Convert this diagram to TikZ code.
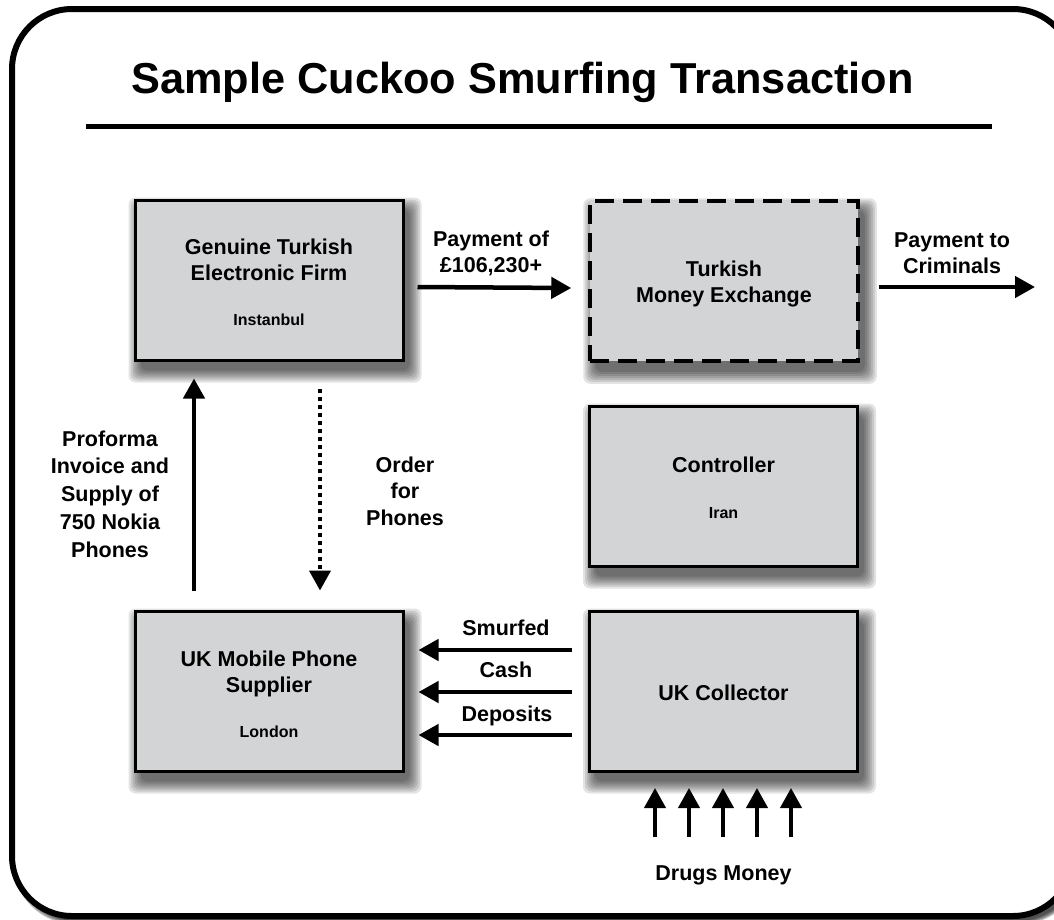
\documentclass[tikz,border=0pt]{standalone}
\usepackage{fontspec}
\setmainfont{Liberation Sans}
\usetikzlibrary{arrows.meta,calc}
\pgfdeclarelayer{back}
\pgfdeclarelayer{bg}
\pgfsetlayers{back,bg,main}
\definecolor{boxgray}{RGB}{211,212,214}
\tikzset{
  box/.style={draw=black, line width=3pt, fill=boxgray, minimum width=268pt, minimum height=160pt, inner sep=0pt},
  dashbox/.style={box, dash pattern=on 19pt off 9pt, line width=3.5pt},
  lbl/.style={font=\fontsize{21.5}{26}\selectfont\bfseries, align=center, anchor=base, inner sep=0pt},
  loc/.style={font=\fontsize{16}{19}\selectfont\bfseries, anchor=base, inner sep=0pt},
  tip/.tip={Triangle[length=20pt,width=21pt]},
  arr/.style={line width=4.5pt, -tip},
  dotarr/.style={line width=4pt, dash pattern=on 4pt off 4pt, -tip},
  shd/.style={fill=black, fill opacity=0.11, rounded corners=7pt},
}
\newcommand{\mkshadow}[1]{%
  \begin{pgfonlayer}{bg}
  \foreach \e in {11,9,...,-1}{
    \fill[shd] ($(#1.north west)+(6-\e,10-\e)$) rectangle ($(#1.south east)+(6+\e,10+\e)$);
  }
  \end{pgfonlayer}}
\begin{document}
\begin{tikzpicture}[x=1pt,y=-1pt]
\useasboundingbox (0,0) rectangle (1054,919);
\clip (0,0) rectangle (1054,919);
% frame
\begin{pgfonlayer}{back}
\foreach \e in {3,2,1,0}{
  \fill[black, fill opacity=0.25, rounded corners=60pt] (12+5-\e,9+5-\e) rectangle (1073+5+\e,916+5+\e);
}
\draw[line width=6pt, fill=white, rounded corners=60pt] (12,9) rectangle (1073,916);
\end{pgfonlayer}
% title
\node[font=\fontsize{43.3}{50}\selectfont\bfseries, anchor=base, inner sep=0pt] (title) at (522.5,93) {Sample Cuckoo Smurfing Transaction};
\draw[line width=5pt] (86,126) coordinate (ruleL) -- (992,126) coordinate (ruleR);
% boxes
\node[box] (gen) at (269,280) {};
\node[dashbox] (tme) at (724,281) {};
\node[box] (ctl) at (723.5,486) {};
\node[box] (uk) at (269,691) {};
\node[box] (col) at (723.5,691) {};
\mkshadow{gen}\mkshadow{tme}\mkshadow{ctl}\mkshadow{uk}\mkshadow{col}
% box texts
\node[lbl] (genT) at (269,280) {Genuine Turkish\\Electronic Firm};
\node[loc] (genL) at (269,325) {Instanbul};
\node[lbl] (tmeT) at (724,302) {Turkish\\Money Exchange};
\node[lbl] (ctlT) at (723.5,472) {Controller};
\node[loc] (ctlL) at (723.5,518) {Iran};
\node[lbl] (ukT) at (269,692) {UK Mobile Phone\\Supplier};
\node[loc] (ukL) at (269,737) {London};
\node[lbl] (colT) at (723.5,700) {UK Collector};
% connectors
\draw[arr] ([shift={(13pt,-7pt)}]gen.east) -- ([shift={(-17pt,-7pt)}]tme.west);
\node[lbl] (payT) at (491,272) {Payment of\\£106,230+};
\coordinate (crim) at (1035,287);
\draw[arr] ([shift={(19pt,-6pt)}]tme.east) -- (crim);
\node[lbl] (crimT) at (952,273) {Payment to\\Criminals};
\draw[arr] ([shift={(-75pt,19pt)}]uk.north) -- ([shift={(-75pt,-17pt)}]gen.south);
\node[lbl, font=\fontsize{21.5}{27.7}\selectfont\bfseries] (proT) at (110,557) {Proforma\\Invoice and\\Supply of\\750 Nokia\\Phones};
\draw[dotarr] ([shift={(51pt,-27pt)}]gen.south) -- ([shift={(51pt,19pt)}]uk.north);
\node[lbl, font=\fontsize{21.5}{26.5}\selectfont\bfseries] (ordT) at (405,525) {Order\\for\\Phones};
\draw[arr] ([shift={(-16pt,41pt)}]col.west) -- ([shift={(14pt,41pt)}]uk.east);
\draw[arr] ([shift={(-16pt,-1pt)}]col.west) -- ([shift={(14pt,-1pt)}]uk.east);
\draw[arr] ([shift={(-16pt,-44pt)}]col.west) -- ([shift={(14pt,-44pt)}]uk.east);
\node[lbl] (smT) at (506,635) {Smurfed};
\node[lbl] (caT) at (506,677) {Cash};
\node[lbl] (deT) at (507,721) {Deposits};
\foreach \i/\x in {1/655,2/689,3/723,4/757,5/791}{
  \coordinate (ds\i) at (\x,837);
  \coordinate (dt\i) at (\x,788);
  \draw[arr, line width=4pt] (ds\i) -- (dt\i);
}
\node[lbl] (drT) at (723.5,880) {Drugs Money};
\end{tikzpicture}
\end{document}
